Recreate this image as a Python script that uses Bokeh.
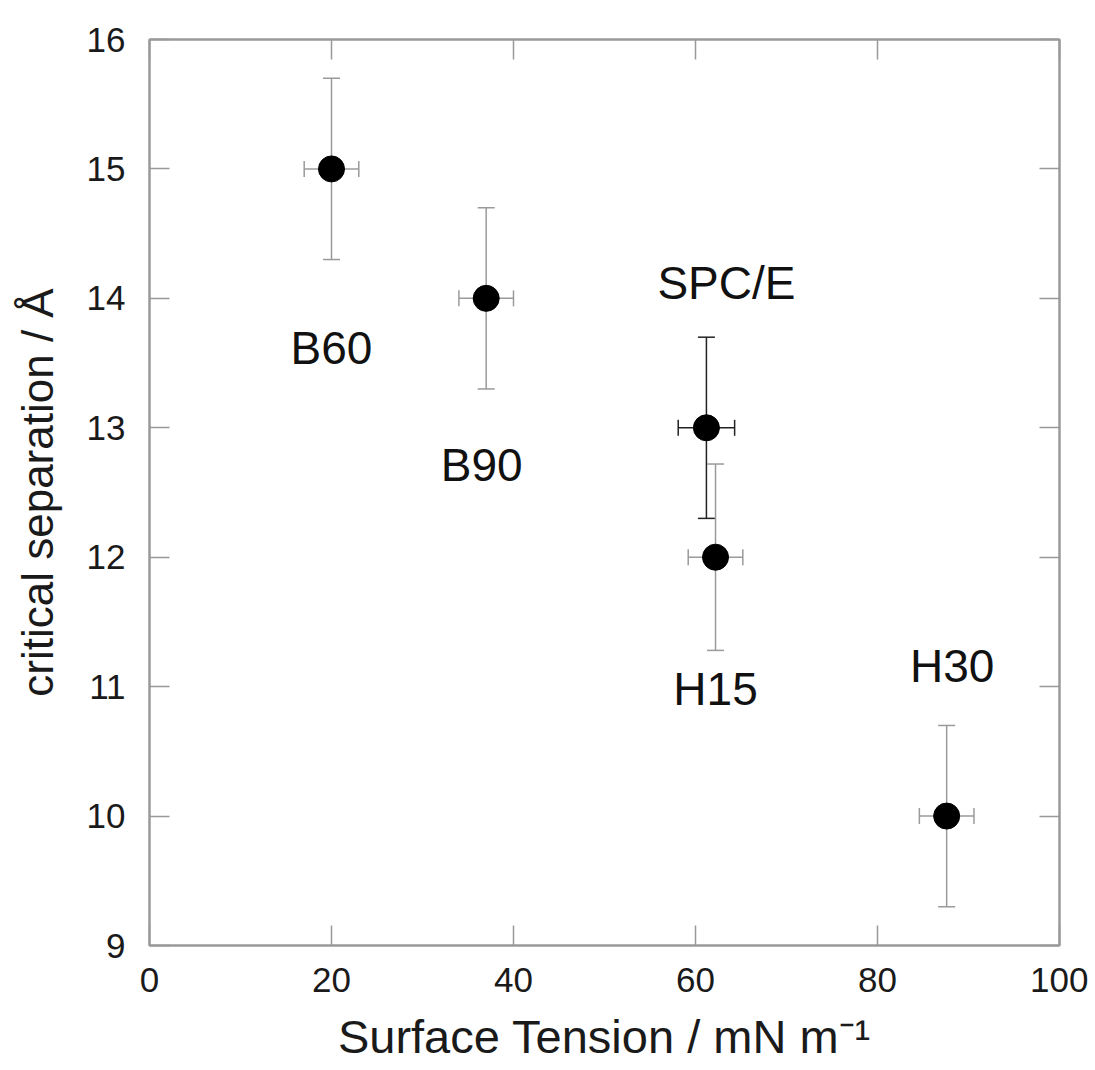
from bokeh.plotting import figure
from bokeh.models import ColumnDataSource, Whisker, TeeHead, LinearAxis, FixedTicker, Range1d
from bokeh.embed import file_html
from bokeh.resources import INLINE
from bokeh.core.properties import value

# data
names = ["B60", "B90", "SPC/E", "H15", "H30"]
tension = [20.0, 37.0, 61.2, 62.2, 87.6]
tension_err = [3.0, 3.0, 3.1, 3.0, 3.0]
separation = [15.0, 14.0, 13.0, 12.0, 10.0]
separation_err = [0.7, 0.7, 0.7, 0.72, 0.7]
bar_colors = ["#9a9a9a", "#9a9a9a", "#222222", "#9a9a9a", "#9a9a9a"]
# annotation label anchor positions (data units)
label_x = [20.0, 36.5, 63.4, 62.2, 88.2]
label_y = [13.62, 12.71, 14.12, 10.98, 11.16]

x_ticks = [0, 20, 40, 60, 80, 100]
y_ticks = [9, 10, 11, 12, 13, 14, 15, 16]

FONT = "Liberation Sans"
GRAY = "#999999"

p = figure(output_backend="svg", toolbar_location=None,
           x_range=Range1d(0, 100), y_range=Range1d(9, 16),
           frame_width=910, frame_height=906,
           min_border_left=149, min_border_top=39, min_border_right=29, min_border_bottom=120,
           background_fill_color="white", border_fill_color="white")
p.grid.visible = False
p.outline_line_color = GRAY
p.outline_line_width = 2

def style_axis(ax, ticks, show_labels=True):
    ax.ticker = FixedTicker(ticks=ticks)
    ax.axis_line_color = GRAY
    ax.axis_line_width = 2
    ax.major_tick_in = 20
    ax.major_tick_out = 0
    ax.major_tick_line_color = GRAY
    ax.major_tick_line_width = 1.5
    ax.minor_tick_line_color = None
    ax.major_label_text_font = FONT
    ax.major_label_text_color = "#1a1a1a"
    ax.major_label_text_font_size = "35px"
    if not show_labels:
        ax.major_label_text_font_size = "0px"
        ax.major_label_text_alpha = 0
    ax.axis_label_text_font = FONT
    ax.axis_label_text_font_style = "normal"
    ax.axis_label_text_color = "#1a1a1a"

style_axis(p.xaxis[0], x_ticks)
style_axis(p.yaxis[0], y_ticks)
p.xaxis[0].axis_label = "Surface Tension / mN m\u207b\u00b9"
p.yaxis[0].axis_label = "critical separation / \u00c5"
p.xaxis[0].axis_label_text_font_size = "47px"
p.yaxis[0].axis_label_text_font_size = "44px"
p.xaxis[0].major_label_standoff = 22
p.yaxis[0].major_label_standoff = 24
p.xaxis[0].axis_label_standoff = 15
p.yaxis[0].axis_label_standoff = 22

ax_r = LinearAxis()
style_axis(ax_r, y_ticks, show_labels=False)
p.add_layout(ax_r, "right")
ax_t = LinearAxis()
style_axis(ax_t, x_ticks, show_labels=False)
p.add_layout(ax_t, "above")

for col in sorted(set(bar_colors)):
    idx = [i for i, c in enumerate(bar_colors) if c == col]
    src = ColumnDataSource(dict(
        x=[tension[i] for i in idx],
        y=[separation[i] for i in idx],
        xl=[tension[i] - tension_err[i] for i in idx],
        xu=[tension[i] + tension_err[i] for i in idx],
        yl=[separation[i] - separation_err[i] for i in idx],
        yu=[separation[i] + separation_err[i] for i in idx],
    ))
    wy = Whisker(source=src, base="x", lower="yl", upper="yu", dimension="height",
                 line_color=col, line_width=1.5, level="underlay",
                 lower_head=TeeHead(size=17, line_color=col, line_width=1.5),
                 upper_head=TeeHead(size=17, line_color=col, line_width=1.5))
    wx = Whisker(source=src, base="y", lower="xl", upper="xu", dimension="width",
                 line_color=col, line_width=1.5, level="underlay",
                 lower_head=TeeHead(size=16, line_color=col, line_width=1.5),
                 upper_head=TeeHead(size=16, line_color=col, line_width=1.5))
    p.add_layout(wy)
    p.add_layout(wx)

pts = ColumnDataSource(dict(x=tension, y=separation))
p.scatter("x", "y", source=pts, size=26, fill_color="black", line_color="black")

lab = ColumnDataSource(dict(x=label_x, y=label_y, t=names))
p.text("x", "y", text="t", source=lab, text_font=value(FONT), text_font_size="46px",
       text_align="center", text_baseline="middle", text_color="#111111")

open("out.html", "w").write(file_html(p, INLINE))
